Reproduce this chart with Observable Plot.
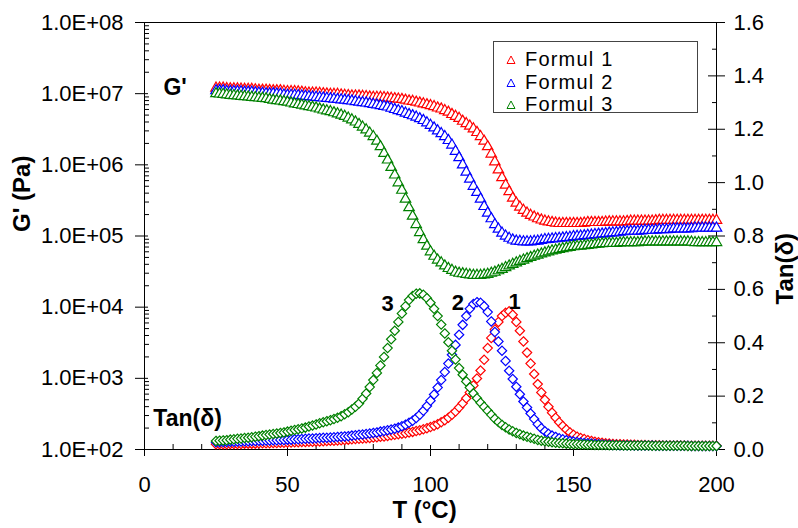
<!DOCTYPE html>
<html>
<head>
<meta charset="utf-8">
<script src="https://cdn.jsdelivr.net/npm/d3@7"></script>
<script src="https://cdn.jsdelivr.net/npm/@observablehq/plot@0.6"></script>
<style>
  body { margin: 0; background: #fff; font-family: "Liberation Sans", Arial, sans-serif; }
  #wrap { position: relative; width: 798px; height: 528px; }
  #legend { position: absolute; left: 493px; top: 41px; width: 205px; height: 72px; border: 1px solid #444; box-sizing: border-box; background: #fff; }
  .lrow { position: absolute; left: 0; width: 200px; height: 22px; }
  .lrow svg { position: absolute; left: 12px; top: 7px; }
  .lrow span { position: absolute; left: 31px; top: 0; display: block; height: 22px; line-height: 22px; font-size: 20px; letter-spacing: 1.2px; color: #000; white-space: nowrap; }
</style>
</head>
<body>
<div id="wrap"><div id="legend"></div></div>
<script>
// ---------- data (one row = 10 °C) ----------
const temperature = [
  25,26.25,27.5,28.75,30,31.25,32.5,33.75,
  35,36.25,37.5,38.75,40,41.25,42.5,43.75,
  45,46.25,47.5,48.75,50,51.25,52.5,53.75,
  55,56.25,57.5,58.75,60,61.25,62.5,63.75,
  65,66.25,67.5,68.75,70,71.25,72.5,73.75,
  75,76.25,77.5,78.75,80,81.25,82.5,83.75,
  85,86.25,87.5,88.75,90,91.25,92.5,93.75,
  95,96.25,97.5,98.75,100,101.25,102.5,103.75,
  105,106.25,107.5,108.75,110,111.25,112.5,113.75,
  115,116.25,117.5,118.75,120,121.25,122.5,123.75,
  125,126.25,127.5,128.75,130,131.25,132.5,133.75,
  135,136.25,137.5,138.75,140,141.25,142.5,143.75,
  145,146.25,147.5,148.75,150,151.25,152.5,153.75,
  155,156.25,157.5,158.75,160,161.25,162.5,163.75,
  165,166.25,167.5,168.75,170,171.25,172.5,173.75,
  175,176.25,177.5,178.75,180,181.25,182.5,183.75,
  185,186.25,187.5,188.75,190,191.25,192.5,193.75,
  195,196.25,197.5,198.75,200];

// G' (Pa)
const gFormul1 = [
  1.2e7,1.2e7,1.2e7,1.18e7,1.17e7,1.17e7,1.17e7,1.16e7,
  1.15e7,1.15e7,1.15e7,1.13e7,1.12e7,1.12e7,1.12e7,1.11e7,
  1.1e7,1.1e7,1.1e7,1.08e7,1.07e7,1.07e7,1.07e7,1.06e7,
  1.05e7,1.03e7,1.02e7,1.02e7,1.02e7,1.01e7,1.0e7,9.9e6,
  9.8e6,9.8e6,9.8e6,9.6e6,9.5e6,9.4e6,9.3e6,9.3e6,
  9.3e6,9.2e6,9.1e6,9.0e6,8.9e6,8.9e6,8.9e6,8.8e6,
  8.7e6,8.6e6,8.5e6,8.4e6,8.3e6,8.1e6,7.9e6,7.8e6,
  7.6e6,7.4e6,7.2e6,7.0e6,6.8e6,6.6e6,6.3e6,6.1e6,
  5.8e6,5.5e6,5.1e6,4.8e6,4.5e6,4.1e6,3.8e6,3.5e6,
  3.2e6,2.85e6,2.5e6,2.15e6,1.8e6,1.42e6,1.1e6,8.5e5,
  6.6e5,5.2e5,4.2e5,3.4e5,2.9e5,2.55e5,2.3e5,2.1e5,
  1.95e5,1.85e5,1.75e5,1.68e5,1.62e5,1.58e5,1.55e5,1.52e5,
  1.5e5,1.5e5,1.5e5,1.5e5,1.5e5,1.5e5,1.5e5,1.52e5,
  1.55e5,1.55e5,1.55e5,1.55e5,1.55e5,1.57e5,1.58e5,1.58e5,
  1.58e5,1.58e5,1.58e5,1.6e5,1.62e5,1.62e5,1.62e5,1.62e5,
  1.62e5,1.62e5,1.62e5,1.64e5,1.66e5,1.66e5,1.66e5,1.66e5,
  1.66e5,1.66e5,1.66e5,1.66e5,1.66e5,1.66e5,1.66e5,1.66e5,
  1.66e5,1.66e5,1.66e5,1.66e5,1.66e5];
const gFormul2 = [
  1.1e7,1.1e7,1.1e7,1.08e7,1.07e7,1.07e7,1.07e7,1.06e7,
  1.05e7,1.05e7,1.05e7,1.03e7,1.02e7,1.01e7,1.0e7,1.0e7,
  1.0e7,9.9e6,9.8e6,9.6e6,9.5e6,9.5e6,9.5e6,9.4e6,
  9.3e6,9.2e6,9.1e6,9.0e6,8.9e6,8.8e6,8.7e6,8.6e6,
  8.5e6,8.4e6,8.3e6,8.2e6,8.1e6,8.0e6,7.9e6,7.75e6,
  7.6e6,7.5e6,7.4e6,7.25e6,7.1e6,6.95e6,6.8e6,6.65e6,
  6.5e6,6.25e6,6.0e6,5.8e6,5.6e6,5.35e6,5.1e6,4.9e6,
  4.7e6,4.45e6,4.2e6,3.9e6,3.6e6,3.3e6,3.0e6,2.75e6,
  2.5e6,2.2e6,1.9e6,1.55e6,1.26e6,1.0e6,7.9e5,6.3e5,
  5.0e5,4.1e5,3.3e5,2.6e5,2.1e5,1.75e5,1.45e5,1.25e5,
  1.1e5,1.0e5,9.3e4,8.8e4,8.5e4,8.4e4,8.3e4,8.3e4,
  8.3e4,8.4e4,8.5e4,8.7e4,8.9e4,9.0e4,9.1e4,9.2e4,
  9.3e4,9.4e4,9.5e4,9.6e4,9.8e4,9.9e4,1.0e5,1.01e5,
  1.02e5,1.03e5,1.05e5,1.06e5,1.07e5,1.08e5,1.1e5,1.11e5,
  1.12e5,1.13e5,1.15e5,1.16e5,1.17e5,1.17e5,1.17e5,1.18e5,
  1.2e5,1.2e5,1.2e5,1.21e5,1.23e5,1.23e5,1.23e5,1.24e5,
  1.26e5,1.26e5,1.26e5,1.26e5,1.26e5,1.27e5,1.29e5,1.29e5,
  1.29e5,1.29e5,1.29e5,1.29e5,1.29e5];
const gFormul3 = [
  1.0e7,9.9e6,9.8e6,9.65e6,9.5e6,9.4e6,9.3e6,9.2e6,
  9.1e6,9.0e6,8.9e6,8.8e6,8.7e6,8.6e6,8.5e6,8.3e6,
  8.1e6,8.0e6,7.9e6,7.75e6,7.6e6,7.4e6,7.2e6,7.05e6,
  6.9e6,6.75e6,6.6e6,6.45e6,6.3e6,6.1e6,5.9e6,5.75e6,
  5.6e6,5.4e6,5.2e6,5.0e6,4.8e6,4.55e6,4.3e6,4.0e6,
  3.7e6,3.4e6,3.1e6,2.8e6,2.5e6,2.15e6,1.8e6,1.45e6,
  1.17e6,9.2e5,7.2e5,5.6e5,4.4e5,3.3e5,2.5e5,1.9e5,
  1.45e5,1.12e5,8.9e4,7.2e4,6.0e4,5.2e4,4.6e4,4.2e4,
  3.8e4,3.5e4,3.3e4,3.1e4,3.0e4,2.95e4,2.9e4,2.85e4,
  2.8e4,2.8e4,2.8e4,2.85e4,2.9e4,3.0e4,3.1e4,3.25e4,
  3.4e4,3.6e4,3.8e4,4.0e4,4.2e4,4.4e4,4.6e4,4.8e4,
  5.0e4,5.2e4,5.4e4,5.6e4,5.8e4,6.0e4,6.2e4,6.35e4,
  6.5e4,6.65e4,6.8e4,6.95e4,7.1e4,7.15e4,7.2e4,7.3e4,
  7.4e4,7.5e4,7.6e4,7.7e4,7.8e4,7.85e4,7.9e4,7.9e4,
  7.9e4,8.0e4,8.1e4,8.1e4,8.1e4,8.1e4,8.1e4,8.2e4,
  8.3e4,8.3e4,8.3e4,8.3e4,8.3e4,8.3e4,8.3e4,8.3e4,
  8.3e4,8.3e4,8.3e4,8.3e4,8.3e4,8.2e4,8.1e4,8.1e4,
  8.1e4,8.1e4,8.1e4,8.1e4,8.1e4];

// Tan(delta)
const tanFormul1 = [
  .020,.020,.020,.020,.021,.021,.021,.021,
  .022,.022,.022,.022,.023,.023,.023,.023,
  .024,.024,.025,.025,.026,.026,.027,.027,
  .028,.028,.029,.029,.030,.030,.031,.032,
  .033,.033,.034,.035,.036,.037,.038,.039,
  .040,.041,.042,.043,.045,.046,.048,.049,
  .051,.053,.055,.057,.059,.061,.064,.066,
  .069,.072,.076,.080,.084,.089,.095,.102,
  .110,.119,.130,.142,.157,.173,.192,.214,
  .240,.266,.296,.336,.380,.418,.450,.478,
  .500,.512,.518,.505,.478,.445,.405,.363,
  .322,.283,.245,.214,.186,.160,.138,.119,
  .102,.088,.075,.064,.055,.048,.043,.039,
  .035,.032,.029,.027,.025,.023,.022,.021,
  .020,.020,.019,.019,.018,.018,.017,.017,
  .017,.016,.016,.016,.016,.015,.015,.015,
  .015,.015,.015,.015,.014,.014,.014,.014,
  .014,.014,.014,.014,.014];
const tanFormul2 = [
  .027,.027,.028,.028,.029,.029,.030,.030,
  .031,.031,.032,.032,.033,.033,.034,.034,
  .035,.035,.036,.036,.037,.037,.038,.038,
  .039,.040,.041,.041,.042,.043,.044,.044,
  .045,.046,.047,.048,.049,.050,.052,.053,
  .055,.056,.058,.060,.062,.064,.067,.069,
  .072,.075,.078,.082,.087,.093,.100,.108,
  .118,.130,.145,.163,.183,.206,.232,.260,
  .290,.322,.355,.392,.430,.467,.500,.527,
  .545,.552,.550,.537,.515,.480,.440,.405,
  .370,.332,.295,.264,.235,.207,.180,.157,
  .135,.114,.095,.080,.068,.059,.052,.047,
  .042,.038,.035,.032,.030,.028,.026,.024,
  .023,.022,.021,.020,.019,.018,.018,.017,
  .017,.016,.016,.016,.016,.015,.015,.015,
  .015,.015,.015,.014,.014,.014,.014,.014,
  .014,.014,.014,.014,.014,.013,.013,.013,
  .013,.013,.013,.013,.013];
const tanFormul3 = [
  .032,.033,.034,.035,.037,.038,.040,.041,
  .043,.044,.046,.048,.050,.052,.054,.056,
  .058,.060,.062,.064,.067,.070,.073,.076,
  .079,.082,.086,.090,.094,.098,.102,.106,
  .110,.114,.119,.125,.132,.140,.150,.160,
  .172,.190,.210,.234,.260,.287,.315,.347,
  .380,.413,.445,.478,.510,.537,.560,.575,
  .584,.585,.580,.567,.550,.527,.500,.468,
  .435,.402,.370,.337,.305,.280,.255,.232,
  .210,.192,.175,.160,.145,.130,.115,.103,
  .092,.083,.075,.068,.062,.057,.052,.048,
  .044,.040,.036,.033,.031,.029,.027,.025,
  .024,.023,.022,.021,.020,.020,.019,.019,
  .018,.018,.017,.017,.017,.017,.016,.016,
  .016,.016,.015,.015,.015,.015,.015,.015,
  .015,.015,.014,.014,.014,.014,.014,.014,
  .014,.014,.014,.014,.013,.013,.013,.013,
  .013,.013,.013,.013,.013];

const seriesNames = ["Formul 1", "Formul 2", "Formul 3"];
const seriesColors = ["#ff0000", "#0000ff", "#008000"];

const xTicks = [0, 50, 100, 150, 200];
const xMinorTicks = [10,20,30,40,60,70,80,90,110,120,130,140,160,170,180,190];
const gTicks = [1e2, 1e3, 1e4, 1e5, 1e6, 1e7, 1e8];
const tanTicks = [0, 0.2, 0.4, 0.6, 0.8, 1.0, 1.2, 1.4, 1.6];
const tanMinorTicks = [0.1, 0.3, 0.5, 0.7, 0.9, 1.1, 1.3, 1.5];

// in-plot annotations (T, value)
const gAnnotation = [{text: "G'", T: 6.6, g: 1.23e7}];
const tanAnnotation = [{text: "Tan(δ)", T: 3.1, tan: 0.116}];
const peakLabels = [
  {text: "3", T: 85.0, tan: 0.547},
  {text: "2", T: 109.6, tan: 0.549},
  {text: "1", T: 129.4, tan: 0.551}
];

// ---------- build ----------
const gSeries = [gFormul1, gFormul2, gFormul3];
const tanSeries = [tanFormul1, tanFormul2, tanFormul3];
const rows = [];
seriesNames.forEach((name, i) => {
  temperature.forEach((T, j) => rows.push({series: name, T, g: gSeries[i][j], tan: tanSeries[i][j]}));
});

// right axis (tan δ, linear 0..1.6) mapped onto the log G' scale (1e2..1e8)
const tanToG = t => Math.pow(10, 2 + t * 6 / 1.6);
const gMinorTicks = [];
gTicks.slice(0, -1).forEach(d => { for (let k = 2; k <= 9; k++) gMinorTicks.push(d * k); });
const fmtSci = d => "1.0E+" + String(Math.round(Math.log10(d))).padStart(2, "0");

const font = '"Liberation Sans", Arial, sans-serif';

const plot = Plot.plot({
  width: 798,
  height: 528,
  marginLeft: 144,
  marginRight: 82,
  marginTop: 22,
  marginBottom: 79,
  style: {fontFamily: font, fontSize: "22px", color: "#000", background: "#fff", overflow: "visible"},
  x: {domain: [0, 200]},
  y: {type: "log", domain: [1e2, 1e8]},
  color: {domain: seriesNames, range: seriesColors},
  marks: [
    Plot.frame({stroke: "#000", strokeWidth: 1}),
    // x axis
    Plot.axisX(xTicks, {anchor: "bottom", tickSize: 11, dy: -4, fill: "none", label: null}),
    Plot.axisX(xMinorTicks, {anchor: "bottom", tickSize: 5, dy: -5, fill: "none", label: null}),
    Plot.axisX(xTicks, {anchor: "bottom", tickSize: 0, tickPadding: 27, fontSize: 22, label: null}),
    // left axis
    Plot.axisY(gTicks, {anchor: "left", tickSize: 13, dx: 4, fill: "none", label: null}),
    Plot.axisY(gMinorTicks, {anchor: "left", tickSize: 5, dx: 5, fill: "none", label: null}),
    Plot.axisY(gTicks, {anchor: "left", tickSize: 0, tickPadding: 21, tickFormat: fmtSci, fontSize: 22, label: null}),
    // right axis
    Plot.axisY(tanTicks.map(tanToG), {anchor: "right", tickSize: 17, dx: -9, fill: "none", label: null}),
    Plot.axisY(tanMinorTicks.map(tanToG), {anchor: "right", tickSize: 5, dx: -5, fill: "none", label: null}),
    Plot.text(tanTicks, {y: d => tanToG(d), frameAnchor: "right", dx: 17, textAnchor: "start", text: d => d.toFixed(1), fontSize: 22}),
    // axis titles
    Plot.text(["T (°C)"], {frameAnchor: "bottom", dx: -6, dy: 68, fontSize: 24, fontWeight: "bold"}),
    Plot.text(["G' (Pa)"], {frameAnchor: "left", dx: -122, dy: -4, rotate: -90, fontSize: 24, fontWeight: "bold"}),
    Plot.text(["Tan(δ)"], {frameAnchor: "right", dx: 69, dy: -3, rotate: -90, fontSize: 24, fontWeight: "bold"}),
    // G' data (triangles)
    Plot.dot(rows, {x: "T", y: "g", symbol: "triangle", r: 3.9, stroke: "series", fill: "white", strokeWidth: 1.2}),
    // tan δ data (diamonds)
    Plot.dot(rows, {x: "T", y: d => tanToG(d.tan), symbol: "diamond2", r: 4.2, stroke: "series", fill: "white", strokeWidth: 1.2}),
    // annotations
    Plot.text(gAnnotation, {x: "T", y: "g", text: "text", textAnchor: "start", fontSize: 23, fontWeight: "bold"}),
    Plot.text(tanAnnotation, {x: "T", y: d => tanToG(d.tan), text: "text", textAnchor: "start", fontSize: 23, fontWeight: "bold"}),
    Plot.text(peakLabels, {x: "T", y: d => tanToG(d.tan), text: "text", textAnchor: "middle", fontSize: 22, fontWeight: "bold"})
  ]
});
document.getElementById("wrap").prepend(plot);

// legend
const legend = document.getElementById("legend");
seriesNames.forEach((name, i) => {
  const row = document.createElement("div");
  row.className = "lrow";
  row.style.top = (6 + i * 22.5) + "px";
  row.innerHTML = `<svg width="10" height="9"><polygon points="1,8.5 5,1 9,8.5" fill="none" stroke="${seriesColors[i]}" stroke-width="1"/></svg><span>${name}</span>`;
  legend.appendChild(row);
});
</script>
</body>
</html>
